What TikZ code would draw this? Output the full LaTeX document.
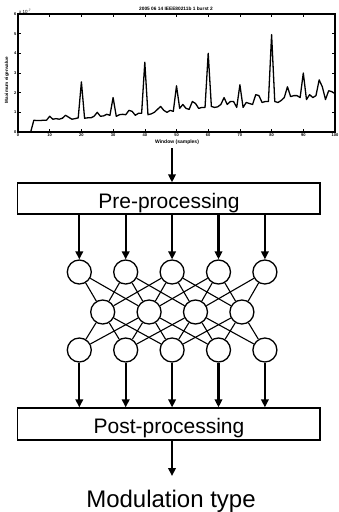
\documentclass[tikz,border=0pt]{standalone}
\usepackage{fontspec}
\setmainfont{Liberation Sans}
\usetikzlibrary{arrows.meta}
\begin{document}
\begin{tikzpicture}[x=1pt,y=-1pt,
  neuron/.style={circle,draw,line width=1.3pt,minimum size=24pt,inner sep=0pt},
  procbox/.style={draw,line width=1.3pt,minimum width=302.5pt,inner sep=0pt},
  flow/.style={line width=2.2pt,-{Triangle[length=8pt,width=7.5pt]}},
  link/.style={line width=1.1pt},
  tiny/.style={font=\bfseries\fontsize{4}{4}\selectfont,inner sep=0.6pt}]
\useasboundingbox (0,0) rectangle (339,512);
% ---------- plot ----------
\begin{scope}[shift={(18,132)},x=3.17pt,y=19.67pt]
  \draw[line width=1.5pt] (0,0) rectangle (100,6);
  \foreach \t in {0,10,...,100} {
    \draw[line width=0.6pt] (\t,0) -- ++(0,0.13);
    \draw[line width=0.6pt] (\t,6) -- ++(0,-0.13);
    \node[tiny,below] at (\t,-0.05) {\t};
  }
  \foreach \t in {0,...,6} {
    \draw[line width=0.6pt] (0,\t) -- ++(0.8,0);
    \draw[line width=0.6pt] (100,\t) -- ++(-0.8,0);
    \node[tiny,left] at (-0.3,\t) {\t};
  }
  \draw[line width=2.2pt] (0,0) -- (4,0);
  \draw[line width=1.3pt,line join=round] plot coordinates {
    (0,0) (4,0) (5,0.6) (6,0.58) (7,0.58) (8,0.6) (9,0.6) (10,0.8) (11,0.65) (12,0.68) (13,0.65) (14,0.7)
    (15,0.85) (16,0.75) (17,0.65) (18,0.68) (19,0.72) (20,2.55) (21,0.7) (22,0.72) (23,0.72) (24,0.8)
    (25,1.0) (26,0.8) (27,0.82) (28,0.9) (29,0.85) (30,1.75) (31,0.8) (32,0.88) (33,0.9) (34,0.88)
    (35,1.1) (36,1.05) (37,0.85) (38,0.95) (39,0.95) (40,3.55) (41,0.88) (42,0.92) (43,1.0) (44,1.15)
    (45,1.3) (46,1.1) (47,1.0) (48,1.1) (49,1.05) (50,2.35) (51,1.2) (52,1.4) (53,1.2) (54,1.15)
    (55,1.55) (56,1.45) (57,1.2) (58,1.25) (59,1.25) (60,4.0) (61,1.3) (62,1.25) (63,1.28) (64,1.4)
    (65,1.75) (66,1.4) (67,1.55) (68,1.55) (69,1.25) (70,2.4) (71,1.25) (72,1.5) (73,1.45) (74,1.4)
    (75,1.9) (76,1.85) (77,1.5) (78,1.55) (79,1.55) (80,4.95) (81,1.55) (82,1.5) (83,1.6) (84,1.75)
    (85,2.3) (86,1.8) (87,1.85) (88,1.85) (89,1.75) (90,3.0) (91,1.65) (92,1.9) (93,1.75) (94,1.85)
    (95,2.65) (96,2.3) (97,1.65) (98,2.1) (99,2.05) (100,1.95) (100,4.9)};
\end{scope}
\node[font=\bfseries\fontsize{4.8}{4.8}\selectfont] (title) at (176,9) {2005 06 14 IEEE80211b 1 burst 2};
\node[font=\fontsize{4.5}{4.5}\selectfont,anchor=west,inner sep=0pt] (expo) at (19,11) {x 10\textsuperscript{-7}};
\node[font=\bfseries\fontsize{4.6}{4.6}\selectfont,rotate=90] (ylab) at (7,80) {Maximum eigenvalue};
\node[font=\bfseries\fontsize{5}{5}\selectfont] (xlab) at (177,142) {Window (samples)};
% ---------- processing chain ----------
\coordinate (plotout) at (172,148);
\node[procbox,minimum height=31pt] (pre) at (168.75,198.5) {};
\node[font=\fontsize{21}{21}\selectfont,anchor=base,inner sep=0pt] (pretext) at (169,208) {Pre-processing};
\draw[flow] (plotout) -- (plotout |- pre.north);
\foreach \i in {0,...,4} \node[neuron] (a\i) at (79.3+46.4*\i,272) {};
\foreach \j in {0,...,3} \node[neuron] (b\j) at (102.7+46.4*\j,312) {};
\foreach \i in {0,...,4} \node[neuron] (c\i) at (79.3+46.4*\i,350) {};
\foreach \i in {0,...,4} {
  \foreach \j in {0,...,3} {
    \pgfmathtruncatemacro\dd{abs(2*\i-2*\j-1)}
    \ifnum\dd<4
      \draw[link] (a\i) -- (b\j);
      \draw[link] (c\i) -- (b\j);
    \fi
  }
}
\node[procbox,minimum height=32pt] (post) at (168.75,424) {};
\node[font=\fontsize{21}{21}\selectfont,anchor=base,inner sep=0pt] (posttext) at (169,433) {Post-processing};
\foreach \i in {0,...,4} {
  \draw[flow] (pre.south -| a\i) -- (a\i);
  \draw[flow] (c\i) -- (post.north -| c\i);
}
\coordinate (outend) at (172,476);
\draw[flow] (post.south -| outend) -- (outend);
\node[font=\fontsize{24}{24}\selectfont,anchor=base,inner sep=0pt] (mod) at (171,507) {Modulation type};
\end{tikzpicture}
\end{document}
